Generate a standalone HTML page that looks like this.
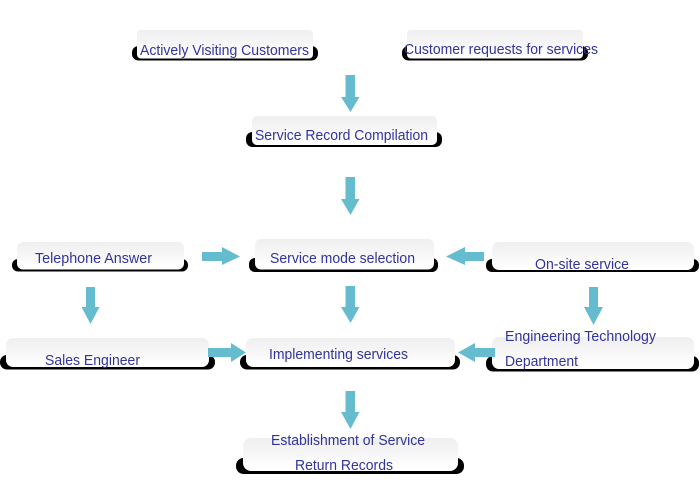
<!DOCTYPE html>
<html>
<head>
<meta charset="utf-8">
<style>
html,body{margin:0;padding:0;background:#fff;width:700px;height:500px;overflow:hidden}
svg{display:block}
text{font-family:"Liberation Sans",Arial,sans-serif;font-size:14.4px;fill:#32349a}
</style>
</head>
<body>
<svg width="700" height="500" viewBox="0 0 700 500" xmlns="http://www.w3.org/2000/svg">
<defs>
<linearGradient id="g" x1="0" y1="0" x2="0" y2="1">
<stop offset="0" stop-color="#efeff0"/>
<stop offset="0.4" stop-color="#f5f5f6"/>
<stop offset="0.8" stop-color="#fdfdfe"/>
<stop offset="1" stop-color="#ffffff"/>
</linearGradient>
<filter id="t" x="-5%" y="-20%" width="110%" height="140%"><feGaussianBlur stdDeviation="0.25"/></filter>
</defs>

<!-- black backing -->
<g fill="#000" filter="url(#t)">
<rect x="132" y="46" width="186" height="14.500" rx="6.500"/>
<rect x="402" y="46" width="186" height="14.500" rx="6.500"/>
<rect x="246" y="132" width="196" height="15" rx="6.500"/>
<rect x="12" y="259" width="176" height="12.500" rx="6"/>
<rect x="249" y="258" width="189" height="14" rx="6"/>
<rect x="486" y="259" width="213" height="13" rx="6"/>
<rect x="0" y="355" width="215" height="14.500" rx="7"/>
<rect x="240" y="355" width="220" height="14.500" rx="7"/>
<rect x="486" y="356" width="213" height="15.500" rx="7"/>
<rect x="236" y="458" width="228" height="16" rx="7.500"/>
</g>

<!-- gray boxes -->
<g fill="url(#g)">
<rect x="137" y="30" width="176" height="28.500" rx="4"/>
<rect x="407" y="30" width="176" height="28.500" rx="4"/>
<rect x="252" y="116" width="185" height="29" rx="5"/>
<rect x="17" y="242" width="167" height="27.500" rx="6"/>
<rect x="255" y="239" width="179" height="30.500" rx="6"/>
<rect x="492" y="242" width="202" height="28" rx="7"/>
<rect x="6" y="338" width="203" height="29" rx="7"/>
<rect x="246" y="338" width="209" height="29" rx="7"/>
<rect x="492" y="337" width="202" height="32" rx="7"/>
<rect x="243" y="438" width="215" height="33" rx="8"/>
</g>

<!-- arrows -->
<g fill="#66bccf" filter="url(#t)">
<polygon points="345.500,75 355,75 355,97 359.500,97 350.500,112 341,97 345.500,97"/>
<polygon points="345.500,177 355,177 355,199 359.500,199 350.500,215 341,199 345.500,199"/>
<polygon points="345.500,286 355,286 355,307 359.500,307 350.500,323 341,307 345.500,307"/>
<polygon points="345.500,391 355,391 355,412 359.500,412 350.500,429 341,412 345.500,412"/>
<polygon points="86,287 95,287 95,307 99.500,307 90.500,324 81.500,307 86,307"/>
<polygon points="589,287 598,287 598,307 603,307 593.500,325 584,307 589,307"/>
<polygon points="202,252 222,252 222,247 240,256.500 222,265 222,261 202,261"/>
<polygon points="484,252 465,252 465,247 446,256.500 465,265 465,261 484,261"/>
<polygon points="208,348 231,348 231,343 246,352.500 231,362 231,357 208,357"/>
<polygon points="495,348 475,348 475,343 458,352.500 475,362 475,357 495,357"/>
</g>

<!-- labels -->
<text x="140" y="55" textLength="169" lengthAdjust="spacingAndGlyphs">Actively Visiting Customers</text>
<text x="404" y="54" textLength="194" lengthAdjust="spacingAndGlyphs">Customer requests for services</text>
<text x="255" y="140" textLength="173" lengthAdjust="spacingAndGlyphs">Service Record Compilation</text>
<text x="35" y="263" textLength="117" lengthAdjust="spacingAndGlyphs">Telephone Answer</text>
<text x="270" y="263" textLength="145" lengthAdjust="spacingAndGlyphs">Service mode selection</text>
<text x="535" y="269" textLength="94" lengthAdjust="spacingAndGlyphs">On-site service</text>
<text x="505" y="341" textLength="151" lengthAdjust="spacingAndGlyphs">Engineering Technology</text>
<text x="505" y="366" textLength="73" lengthAdjust="spacingAndGlyphs">Department</text>
<text x="45" y="365" textLength="95" lengthAdjust="spacingAndGlyphs">Sales Engineer</text>
<text x="269" y="359" textLength="139" lengthAdjust="spacingAndGlyphs">Implementing services</text>
<text x="271" y="445" textLength="154" lengthAdjust="spacingAndGlyphs">Establishment of Service</text>
<text x="295" y="470" textLength="98" lengthAdjust="spacingAndGlyphs">Return Records</text>
</svg>
</body>
</html>
